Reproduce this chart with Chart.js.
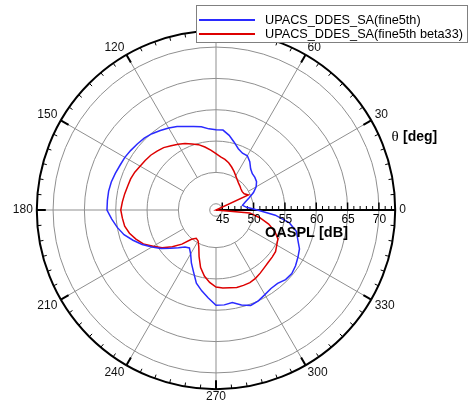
<!DOCTYPE html>
<html>
<head>
<meta charset="utf-8">
<script src="https://cdn.jsdelivr.net/npm/chart.js@4.4.1/dist/chart.umd.min.js"></script>
<style>
  html, body { margin: 0; padding: 0; background: #fff; }
  canvas { display: block; }
</style>
</head>
<body>
<canvas id="polar" width="470" height="405"></canvas>
<script>
// Directivity angle of each sample, degrees counter-clockwise from the 0° axis
const THETA = [
    0,   5,  10,  15,  20,  25,  30,  35,  40,  45,  50,  55,
   60,  65,  70,  75,  80,  85,  90,  95, 100, 105, 110, 115,
  120, 125, 130, 135, 140, 145, 150, 155, 160, 165, 170, 175,
  180, 185, 190, 195, 200, 205, 210, 215, 220, 225, 230, 235,
  240, 245, 250, 255, 260, 265, 270, 275, 280, 285, 290, 295,
  300, 305, 310, 315, 320, 325, 330, 335, 340, 345, 350, 355
];

// OASPL [dB], UPACS_DDES_SA(fine5th)
const OASPL_FINE5TH = [
  50.6, 48.9, 48.3, 48.8, 49.6, 50.6, 51.4, 51.9, 52.1, 52.2, 52.6, 53.4,
  54.0, 54.0, 54.4, 55.2, 56.1, 56.8, 56.8, 57.0, 57.5, 57.8, 58.2, 58.7,
  59.1, 59.5, 59.9, 60.2, 60.4, 60.6, 60.8, 60.9, 61.1, 61.3, 61.4, 61.4,
  61.4, 60.7, 60.0, 59.2, 58.1, 57.0, 55.8, 54.7, 53.5, 52.5, 51.7, 51.4,
  52.1, 53.3, 54.5, 56.1, 57.1, 58.1, 59.2, 59.2, 59.0, 59.7, 60.2, 60.0,
  59.6, 59.3, 59.3, 59.7, 59.8, 59.5, 59.1, 58.7, 57.9, 57.3, 55.9, 53.5
];

// OASPL [dB], UPACS_DDES_SA(fine5th beta33); 44 sits on the centre of the plot
const OASPL_BETA33 = [
  44.0, 44.0, 44.0, 44.0, 44.0, 49.7, 49.2, 49.1, 49.2, 49.4, 49.6, 49.9,
  50.3, 50.8, 51.3, 51.8, 52.2, 52.5, 53.0, 53.6, 54.2, 54.8, 55.2, 55.7,
  56.1, 56.5, 57.0, 57.3, 57.6, 57.8, 58.0, 58.3, 58.5, 58.6, 58.8, 59.0,
  59.2, 59.0, 58.8, 58.3, 57.6, 56.8, 55.6, 54.5, 53.1, 51.7, 50.1, 49.5,
  49.7, 50.5, 51.9, 53.5, 54.7, 55.6, 56.3, 56.5, 56.6, 56.8, 56.8, 56.8,
  56.6, 56.3, 56.0, 55.8, 55.7, 55.6, 55.2, 54.9, 54.0, 52.7, 51.1, 49.4
];

const SERIES_NAMES = ['UPACS_DDES_SA(fine5th)', 'UPACS_DDES_SA(fine5th beta33)'];
const SERIES_COLORS = ['#2a2aff', '#dd0000'];

// Radial axis: centre value, rings, rim
const R_MIN = 44;
const R_MAX = 72.6;
const RING_VALUES = [44, 45, 50, 55, 60, 65, 70, 72.6];
const AXIS_LABELS = [45, 50, 55, 60, 65, 70];
const AXIS_MINOR_STEP = 1;
const SPOKE_FROM = 50;          // angular grid lines start at this ring
const ANGLE_LABEL_STEP = 30;

const GRID_GREY = '#8f8f8f';
const FONT = "'Liberation Sans', Arial, Helvetica, sans-serif";

// The radar scale runs clockwise from its start angle, theta runs counter-clockwise
const N = THETA.length;
const ORDER = THETA.map((_, i) => (N - i) % N);
const inRadarOrder = arr => ORDER.map(k => arr[k]);

const polarDecor = {
  id: 'polarDecor',
  beforeDatasetsDraw(chart) {
    const s = chart.scales.r;
    const ctx = chart.ctx;
    const rim = s.getDistanceFromCenterForValue(s.max);
    const inner = s.getDistanceFromCenterForValue(SPOKE_FROM);
    const seg = (i, d0, d1) => {
      const a = s.getPointPosition(i, d0), b = s.getPointPosition(i, d1);
      ctx.beginPath(); ctx.moveTo(a.x, a.y); ctx.lineTo(b.x, b.y); ctx.stroke();
    };
    ctx.save();
    // angular grid lines
    ctx.strokeStyle = GRID_GREY;
    ctx.lineWidth = 1;
    ORDER.forEach((k, i) => {
      const t = THETA[k];
      if (t % ANGLE_LABEL_STEP === 0 && t !== 0) seg(i, inner, rim);
    });
    // tick marks on the rim
    ctx.strokeStyle = '#000';
    ORDER.forEach((k, i) => {
      const major = THETA[k] % ANGLE_LABEL_STEP === 0;
      ctx.lineWidth = major ? 2 : 1;
      seg(i, rim - (major ? 9 : 4), rim);
    });
    // radial OASPL axis along 0°
    ctx.lineWidth = 2;
    seg(0, 0, rim);
    const y0 = s.yCenter;
    for (let v = R_MIN + AXIS_MINOR_STEP; v <= R_MAX; v += AXIS_MINOR_STEP) {
      const major = AXIS_LABELS.includes(v);
      const x = s.getPointPosition(0, s.getDistanceFromCenterForValue(v)).x;
      ctx.lineWidth = major ? 1.5 : 1;
      ctx.beginPath(); ctx.moveTo(x, y0); ctx.lineTo(x, y0 - (major ? 7.5 : 4)); ctx.stroke();
    }
    ctx.restore();
  },
  afterDatasetsDraw(chart) {
    const s = chart.scales.r;
    const ctx = chart.ctx;
    ctx.save();
    ctx.fillStyle = '#000';
    ctx.textBaseline = 'alphabetic';
    // values along the 0° axis
    ctx.font = '12px ' + FONT;
    ctx.textAlign = 'center';
    AXIS_LABELS.forEach(v => {
      const x = s.getPointPosition(0, s.getDistanceFromCenterForValue(v)).x;
      ctx.fillText(String(v), x + 0.5, s.yCenter + 12.5);
    });
    // axis titles
    ctx.textAlign = 'left';
    ctx.font = 'bold 14.5px ' + FONT;
    ctx.fillText('OASPL [dB]', s.xCenter + 49, s.yCenter + 27);
    ctx.font = "15px 'Liberation Serif', 'Times New Roman', serif";
    ctx.fillText('θ', s.xCenter + 175.5, s.yCenter - 69.5);
    ctx.font = 'bold 14px ' + FONT;
    ctx.fillText('[deg]', s.xCenter + 187, s.yCenter - 69.5);
    ctx.restore();
  },
  afterDraw(chart) {
    const ctx = chart.ctx;
    const box = { x: 196.5, y: 5.5, w: 271, h: 37 };
    ctx.save();
    ctx.fillStyle = '#fff';
    ctx.fillRect(box.x, box.y, box.w, box.h);
    ctx.strokeStyle = '#808080';
    ctx.lineWidth = 1;
    ctx.strokeRect(box.x, box.y, box.w, box.h);
    ctx.font = '12.7px ' + FONT;
    ctx.textBaseline = 'middle';
    ctx.textAlign = 'left';
    chart.data.datasets.forEach((ds, i) => {
      const y = 20 + i * 14;
      ctx.strokeStyle = ds.borderColor;
      ctx.lineWidth = 2;
      ctx.beginPath(); ctx.moveTo(199, y); ctx.lineTo(255, y); ctx.stroke();
      ctx.fillStyle = '#000';
      ctx.fillText(ds.label, 265, y);
    });
    ctx.restore();
  }
};

new Chart(document.getElementById('polar'), {
  type: 'radar',
  data: {
    labels: inRadarOrder(THETA),
    datasets: [
      { label: SERIES_NAMES[0], data: inRadarOrder(OASPL_FINE5TH), borderColor: SERIES_COLORS[0] },
      { label: SERIES_NAMES[1], data: inRadarOrder(OASPL_BETA33), borderColor: SERIES_COLORS[1] }
    ]
  },
  options: {
    responsive: false,
    animation: false,
    layout: { padding: { left: 0, right: 38, top: 20, bottom: 3 } },
    elements: {
      line: { borderWidth: 1.5, tension: 0, fill: false },
      point: { radius: 0, hoverRadius: 0 }
    },
    plugins: { legend: { display: false }, tooltip: { enabled: false } },
    scales: {
      r: {
        min: R_MIN,
        max: R_MAX,
        startAngle: 90,
        afterBuildTicks: scale => { scale.ticks = RING_VALUES.map(v => ({ value: v })); },
        ticks: { display: false },
        grid: {
          circular: true,
          color: c => (c.tick && c.tick.value >= R_MAX ? '#000' : GRID_GREY),
          lineWidth: c => (c.tick && c.tick.value >= R_MAX ? 2 : 1)
        },
        angleLines: { display: false },
        pointLabels: {
          display: true,
          padding: 4,
          color: '#111',
          font: { family: FONT, size: 12, lineHeight: 0.65 },
          callback: label => (Number(label) % ANGLE_LABEL_STEP === 0 ? String(label) : '')
        }
      }
    }
  },
  plugins: [polarDecor]
});
</script>
</body>
</html>
